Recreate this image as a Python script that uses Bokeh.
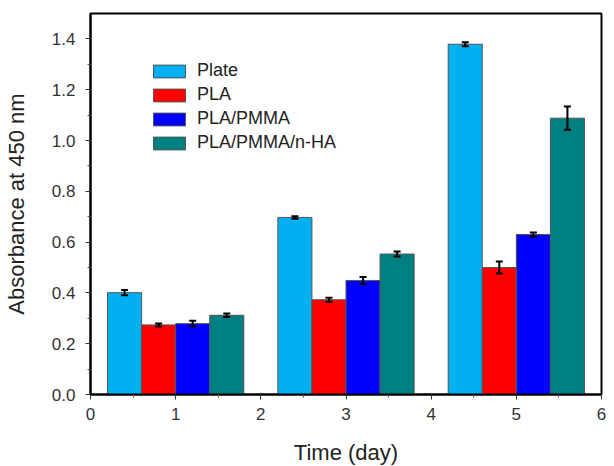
from bokeh.plotting import figure
from bokeh.models import (ColumnDataSource, Range1d, FixedTicker, Whisker, TeeHead,
                          Legend, LegendItem, NumeralTickFormatter)
from bokeh.embed import file_html
from bokeh.resources import INLINE

# ---- data ----
days = [1, 3, 5]
series_names = ["Plate", "PLA", "PLA/PMMA", "PLA/PMMA/n-HA"]
plate = [0.401, 0.697, 1.379]
pla = [0.274, 0.373, 0.500]
pla_pmma = [0.279, 0.449, 0.630]
pla_pmma_nha = [0.312, 0.553, 1.088]
plate_err = [0.010, 0.005, 0.008]
pla_err = [0.006, 0.008, 0.024]
pla_pmma_err = [0.011, 0.014, 0.008]
pla_pmma_nha_err = [0.007, 0.010, 0.046]
y_ticks = [0.0, 0.2, 0.4, 0.6, 0.8, 1.0, 1.2, 1.4]
x_ticks = [0, 1, 2, 3, 4, 5, 6]

values = [plate, pla, pla_pmma, pla_pmma_nha]
errors = [plate_err, pla_err, pla_pmma_err, pla_pmma_nha_err]
colors = ["#00B0F0", "#FF0000", "#0000FF", "#008080"]
offsets = [-0.6, -0.2, 0.2, 0.6]
bar_w = 0.4

FONT = "Liberation Sans"

p = figure(frame_width=511, frame_height=381,
           min_border_left=86, min_border_right=7, min_border_top=13, min_border_bottom=0,
           x_range=Range1d(0, 6), y_range=Range1d(0, 1.5),
           output_backend="svg", toolbar_location=None,
           x_axis_label="Time (day)", y_axis_label="Absorbance at 450 nm")

p.xgrid.visible = False
p.ygrid.visible = False
p.outline_line_color = "black"
p.outline_line_width = 2
p.background_fill_color = "white"
p.border_fill_color = "white"

items = []
for name, vals, errs, col, off in zip(series_names, values, errors, colors, offsets):
    src = ColumnDataSource(dict(
        x=[d + off for d in days], top=vals,
        upper=[v + e for v, e in zip(vals, errs)],
        lower=[v - e for v, e in zip(vals, errs)]))
    r = p.vbar(x="x", top="top", width=bar_w, bottom=0, source=src,
               fill_color=col, line_color="#555555", line_width=1)
    items.append(LegendItem(label=name, renderers=[r]))
    w = Whisker(base="x", upper="upper", lower="lower", source=src, level="overlay",
                line_color="black", line_width=2,
                upper_head=TeeHead(size=7, line_width=2, line_color="black"),
                lower_head=TeeHead(size=7, line_width=2, line_color="black"))
    p.add_layout(w)

legend = Legend(items=items, location=(59, 241), padding=0, margin=0,
                border_line_color=None, background_fill_alpha=0,
                glyph_width=40, glyph_height=16, label_height=16, spacing=3,
                label_standoff=8, label_text_font=FONT, label_text_font_size="18px",
                label_text_color="#222222")
p.add_layout(legend)

for ax in (p.xaxis[0], p.yaxis[0]):
    ax.axis_line_width = 2
    ax.axis_line_color = "black"
    ax.major_tick_in = 0
    ax.major_tick_out = 5
    ax.minor_tick_in = 0
    ax.minor_tick_out = 3
    ax.major_tick_line_color = "#333333"
    ax.minor_tick_line_color = "#555555"
    ax.major_label_text_font = FONT
    ax.major_label_text_font_size = "17px"
    ax.major_label_text_color = "#333333"
    ax.axis_label_text_font = FONT
    ax.axis_label_text_font_size = "22px"
    ax.axis_label_text_font_style = "normal"
    ax.axis_label_text_color = "#222222"

p.yaxis[0].ticker = FixedTicker(ticks=y_ticks,
                                minor_ticks=[0.1, 0.3, 0.5, 0.7, 0.9, 1.1, 1.3])
p.yaxis[0].formatter = NumeralTickFormatter(format="0.0")
p.yaxis[0].major_label_standoff = 10
p.yaxis[0].axis_label_standoff = 20

p.xaxis[0].ticker = FixedTicker(ticks=x_ticks,
                                minor_ticks=[0.5, 1.5, 2.5, 3.5, 4.5, 5.5])
p.xaxis[0].major_label_standoff = 8
p.xaxis[0].axis_label_standoff = 17

open("out.html", "w").write(file_html(p, INLINE))
